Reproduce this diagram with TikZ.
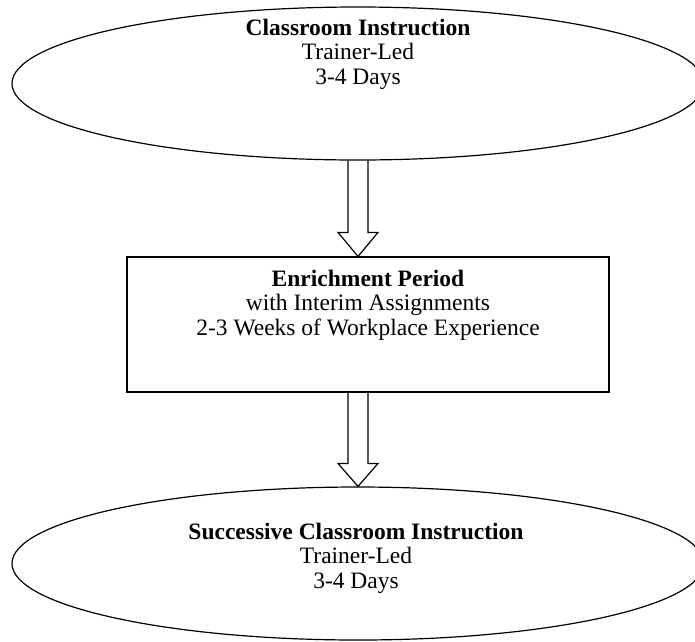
\documentclass[tikz,border=0pt]{standalone}
\usepackage{fontspec}
\setmainfont{Liberation Serif}
\usetikzlibrary{shapes.geometric,calc}
\begin{document}
\begin{tikzpicture}[x=1pt, y=-1pt, line width=1.2pt,
          every node/.style = {align=center, inner sep=0pt, font=\fontsize{23.5}{24.5}\selectfont},
          stage/.style = {shape=ellipse, draw, minimum width=692, minimum height=153},
          period/.style = {shape=rectangle, draw, minimum width=482, minimum height=135}]
          \useasboundingbox (0,0) rectangle (695,641);
          \node[stage] (first) at (358,83.5) {};
          \node[period] (enrich) at (368,324.5) {};
          \node[stage] (second) at (358,563.5) {};
          \node (firsttext) at (358,54) {\textbf{Classroom Instruction}\\Trainer-Led\\3-4 Days};
          \node (enrichtext) at (368,305) {\textbf{Enrichment Period}\\with Interim Assignments\\2-3 Weeks of Workplace Experience};
          \node (secondtext) at (356,558) {\textbf{Successive Classroom Instruction}\\Trainer-Led\\3-4 Days};
          % hollow block arrows
          \draw[line join=miter] let \p1 = (first.south), \p2 = (first.south |- enrich.north) in
            (\x1-10pt,\y1) -- (\x1-10pt,\y2+24pt) -- (\x1-20pt,\y2+24pt) -- (\p2)
            -- (\x1+20pt,\y2+24pt) -- (\x1+10pt,\y2+24pt) -- (\x1+10pt,\y1);
          \draw[line join=miter] let \p1 = (first.south |- enrich.south), \p2 = (second.north) in
            (\x1-10pt,\y1) -- (\x1-10pt,\y2+23pt) -- (\x1-20pt,\y2+23pt) -- (\p2)
            -- (\x1+20pt,\y2+23pt) -- (\x1+10pt,\y2+23pt) -- (\x1+10pt,\y1);
\end{tikzpicture}
\end{document}
